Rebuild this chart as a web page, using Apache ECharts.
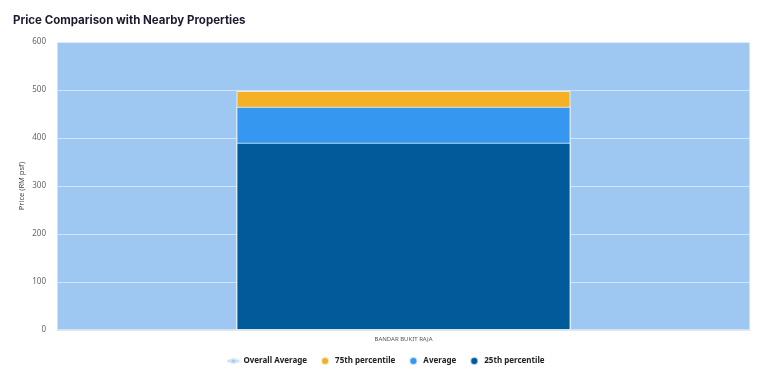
<!DOCTYPE html>
<html><head><meta charset="utf-8">
<script src="https://cdn.jsdelivr.net/npm/echarts@6/dist/echarts.min.js"></script>
<style>html,body{margin:0;padding:0;background:#fff}#c{width:772px;height:383px}</style>
</head><body><div id="c"></div>
<script>
const categories = ['BANDAR BUKIT RAJA'];
const overallAverage = [600];
const p75 = [498];
const average = [465];
const p25 = [390];
const yTicks = [0, 100, 200, 300, 400, 500, 600];
const yAxisName = 'Price (RM psf)';

const chart = echarts.init(document.getElementById('c'));
const barBorder = {borderColor: 'rgba(255,255,255,0.7)', borderWidth: 1};
chart.setOption({
  animation: false,
  title: {text: 'Price Comparison with Nearby Properties', left: 8, top: 10,
    textStyle: {fontFamily: 'Inter', fontSize: 11.5, fontWeight: 'bold', color: '#1b1b2f'}},
  grid: {left: 57, right: 22, top: 42, bottom: 53},
  graphic: [{type: 'text', x: 22, y: 186, rotation: Math.PI / 2,
    style: {text: yAxisName, fontFamily: 'Noto Sans', fontSize: 7.5, fill: '#444', align: 'center', verticalAlign: 'middle'}}],
  legend: {bottom: 12, left: 'center', itemGap: 13, itemWidth: 10, itemHeight: 8,
    textStyle: {fontFamily: 'Noto Sans', fontSize: 8, color: '#222', fontWeight: 'bold'},
    data: [
      {name: 'Overall Average', icon: 'path://M0,3.5 L3,3.5 A2,2 0 0 1 5,2 L7,2 A2,2 0 0 1 9,3.5 L12,3.5 L12,4.5 L9,4.5 A2,2 0 0 1 7,6 L5,6 A2,2 0 0 1 3,4.5 L0,4.5 Z M0,0 L0.01,0 M0,8 L0.01,8', itemStyle: {color: '#8fc0ef'}},
      {name: '75th percentile', icon: 'circle'},
      {name: 'Average', icon: 'circle'},
      {name: '25th percentile', icon: 'circle'}
    ]},
  xAxis: [
    {type: 'category', data: categories,
      axisLine: {show: true, lineStyle: {color: '#e6e6e6'}}, axisTick: {show: false},
      axisLabel: {fontFamily: 'Noto Sans', fontSize: 6, color: '#555', margin: 6}},
    {type: 'category', data: categories, show: false}
  ],
  yAxis: {type: 'value', min: yTicks[0], max: yTicks[yTicks.length - 1], interval: 100,
    axisLabel: {fontFamily: 'Noto Sans', fontSize: 8, color: '#666', margin: 11},
    axisLine: {show: false}, axisTick: {show: false},
    splitLine: {show: true, lineStyle: {color: 'rgba(225,238,250,0.75)', width: 1}}},
  series: [
    {name: 'Overall Average', type: 'bar', xAxisIndex: 1, data: overallAverage, barWidth: '100%', z: -1,
      itemStyle: {color: '#9ec8f1', borderColor: '#cfe2f5', borderWidth: 1}},
    {name: '75th percentile', type: 'bar', data: p75, barWidth: '48.2%', barGap: '-100%',
      itemStyle: Object.assign({color: '#f5b126'}, barBorder)},
    {name: 'Average', type: 'bar', data: average, barWidth: '48.2%', barGap: '-100%',
      itemStyle: Object.assign({color: '#3697f0'}, barBorder)},
    {name: '25th percentile', type: 'bar', data: p25, barWidth: '48.2%', barGap: '-100%',
      itemStyle: Object.assign({color: '#015b9a'}, barBorder)}
  ]
});
</script></body></html>
